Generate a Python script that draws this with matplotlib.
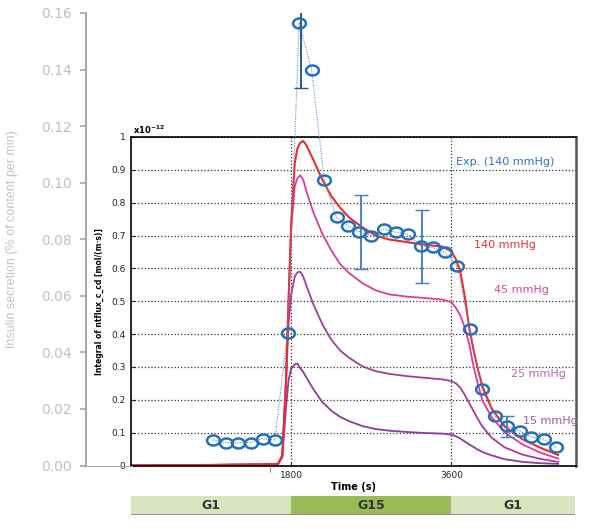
import numpy as np
import matplotlib
matplotlib.use('Agg')
import matplotlib.pyplot as plt
from matplotlib.path import Path
from matplotlib.ticker import FuncFormatter

# model curves, integral of ntflux_c_cd (x1e-12 mol/(m*s)) vs time (s)
t_model = [0, 1000, 1650, 1700, 1740, 1770, 1800, 1840, 1870, 1900, 1935, 1970,
           2050, 2150, 2250, 2350, 2450, 2600, 2750, 2900, 3100, 3300, 3500,
           3600, 3650, 3700, 3750, 3800, 3850, 3900, 3950, 4050, 4200, 4400,
           4600, 4800]
flux_140 = [0, 0.002, 0.004, 0.03, 0.25, 0.50, 0.74, 0.92, 0.965, 0.982, 0.988,
            0.975, 0.93, 0.87, 0.82, 0.785, 0.755, 0.725, 0.70, 0.688, 0.68,
            0.672, 0.666, 0.652, 0.628, 0.59, 0.515, 0.42, 0.35, 0.29, 0.24,
            0.175, 0.118, 0.08, 0.054, 0.032]
flux_45 = [0, 0.002, 0.004, 0.03, 0.25, 0.50, 0.72, 0.85, 0.875, 0.883, 0.87,
           0.835, 0.77, 0.705, 0.655, 0.613, 0.586, 0.555, 0.533, 0.521, 0.514,
           0.51, 0.505, 0.497, 0.48, 0.457, 0.42, 0.37, 0.30, 0.245, 0.197,
           0.148, 0.10, 0.064, 0.039, 0.021]
flux_25 = [0, 0.002, 0.004, 0.03, 0.24, 0.43, 0.52, 0.575, 0.588, 0.59, 0.575,
           0.548, 0.49, 0.43, 0.383, 0.35, 0.328, 0.302, 0.287, 0.279, 0.272,
           0.267, 0.262, 0.257, 0.25, 0.237, 0.215, 0.19, 0.165, 0.14, 0.118,
           0.085, 0.055, 0.033, 0.02, 0.011]
flux_15 = [0, 0.002, 0.003, 0.025, 0.17, 0.26, 0.295, 0.308, 0.31, 0.297, 0.285,
           0.268, 0.232, 0.193, 0.167, 0.148, 0.135, 0.12, 0.111, 0.106, 0.102,
           0.099, 0.097, 0.094, 0.089, 0.082, 0.073, 0.064, 0.056, 0.048, 0.041,
           0.031, 0.019, 0.011, 0.007, 0.005]

# experiment, insulin secretion (% of content per min)
exp_t = [918, 1061, 1199, 1339, 1474, 1612, 1755, 1886, 2025, 2169, 2306, 2437,
         2561, 2698, 2838, 2973, 3112, 3251, 3386, 3521, 3665, 3806, 3941,
         4084, 4219, 4365, 4498, 4635, 4773]
exp_v = [0.0090, 0.0081, 0.0081, 0.0081, 0.0095, 0.0090, 0.0470, 0.1566, 0.1399,
         0.1010, 0.0877, 0.0847, 0.0827, 0.0812, 0.0836, 0.0825, 0.0818, 0.0776,
         0.0771, 0.0754, 0.0704, 0.0483, 0.0269, 0.0175, 0.0140, 0.0122, 0.0101,
         0.0093, 0.0064]
err_t = [2582, 3271, 4224]
err_v = [0.0825, 0.0774, 0.0138]
err_sd = [0.0130, 0.0129, 0.0037]
peak_err_t = [1903]
peak_err_v = [0.1566]
peak_err_sd = [0.0232]

phase_labels = ['G1', 'G15', 'G1']
phase_edges = [0, 1800, 3600, 5000]

W, H = 600, 529
fig = plt.figure(figsize=(W / 100, H / 100), dpi=100)

def rect(x0, y0, x1, y1):  # pixel box -> figure fraction
    return [x0 / W, 1 - y1 / H, (x1 - x0) / W, (y1 - y0) / H]

# ---- model axes (inner)
ax = fig.add_axes(rect(131, 137, 576, 465.5))
ax.set_zorder(1)
ax.plot(t_model, flux_15, color='#8e3aa0', lw=1.3)
ax.plot(t_model, flux_25, color='#a93a9c', lw=1.3)
ax.plot(t_model, flux_45, color='#e0399e', lw=1.3)
ax.plot(t_model, flux_140, color='#ee2b2b', lw=1.5)
ax.set_xlim(0, 5000)
ax.set_ylim(0, 1)
ax.set_yticks(np.arange(0, 1.01, 0.1))
ax.yaxis.set_major_formatter(FuncFormatter(lambda v, p: '%g' % round(v, 1)))
ax.set_xticks([1800, 3600])
ax.tick_params(direction='in', length=3, labelsize=6.5, pad=4, colors='#222222')
ax.grid(True, linestyle=':', color='#333333', lw=0.9)
for s in ax.spines.values():
    s.set_linewidth(1.2)
ax.spines['right'].set_color('#555555')
ax.spines['right'].set_linewidth(1.8)
ax.set_ylabel('Integral of ntflux_c_cd [mol/(m·s)]', fontsize=5.5, fontweight='bold')
ax.yaxis.set_label_coords(-0.061, 0.5)
ax.set_xlabel('Time (s)', fontsize=7, fontweight='bold')
ax.xaxis.set_label_coords(0.5, -0.05)
ax.text(0.005, 1.003, r'x10$^{\mathbf{-12}}$', transform=ax.transAxes,
        fontsize=6, fontweight='bold', va='bottom', ha='left')

ax.text(3651, 0.925, 'Exp. (140 mmHg)', color='#2e75b6', fontsize=8, va='center')
ax.text(3853, 0.671, '140 mmHg', color='#e8322c', fontsize=8, va='center')
ax.text(4078, 0.534, '45 mmHg', color='#d348a8', fontsize=8, va='center')
ax.text(4269, 0.279, '25 mmHg', color='#b366b8', fontsize=8, va='center')
ax.text(4404, 0.136, '15 mmHg', color='#9d55b0', fontsize=8, va='center')

# ---- experiment axes (outer, drawn on top)
ax2 = fig.add_axes(rect(86, 13, 576, 465.5))
ax2.set_zorder(3)
ax2.patch.set_visible(False)
ax2.set_xlim(-512, 5000)
ax2.set_ylim(0, 0.16)

theta = np.linspace(0, 2 * np.pi, 60)
ellipse = Path(np.column_stack([np.cos(theta), 0.78 * np.sin(theta)]))

ax2.plot(exp_t, exp_v, color='#5b8fc7', lw=0.8, dashes=(1, 1.2))
ax2.errorbar(peak_err_t, peak_err_v, yerr=peak_err_sd, fmt='none',
             ecolor='#1f5a99', elinewidth=1.4, capsize=5)
ax2.errorbar(err_t, err_v, yerr=err_sd, fmt='none', ecolor='#3a7dc0',
             elinewidth=1.3, capsize=5)
ax2.plot(exp_t, exp_v, ls='none', marker=ellipse, markersize=9.2,
         markerfacecolor='none', markeredgecolor='#2470b8', markeredgewidth=1.8,
         clip_on=False)

ax2.spines['top'].set_visible(False)
ax2.spines['right'].set_visible(False)
ax2.spines['left'].set_color('#a6a6a6')
ax2.spines['left'].set_linewidth(1.4)
ax2.spines['bottom'].set_color('#a6a6a6')
ax2.spines['bottom'].set_bounds(-512, 0)
ax2.set_yticks(np.arange(0, 0.161, 0.02))
ax2.yaxis.set_major_formatter(FuncFormatter(lambda v, p: '%.2f' % v))
ax2.set_xticks([1558])
ax2.set_xticklabels([''])
ax2.tick_params(axis='y', colors='#a6a6a6', labelcolor='#c0c0c0', labelsize=10,
                length=4, width=1.2, pad=6)
ax2.tick_params(axis='x', colors='#a6a6a6', length=4, width=1)
ax2.set_ylabel('Insulin secretion (% of content per min)', color='#c3c3c3',
               fontsize=9, family='Liberation Sans')
ax2.yaxis.set_label_coords(-0.139, 0.5)

# ---- glucose phase bar
ax3 = fig.add_axes(rect(131, 496, 575, 515))
ax3.set_xlim(0, 4995)
ax3.set_ylim(-0.5, 0.5)
phase_colors = ['#d7e4bd', '#9bbb59', '#d7e4bd']
for lab, c, a, b in zip(phase_labels, phase_colors, phase_edges[:-1], phase_edges[1:]):
    ax3.barh(0, b - a, left=a, height=1, color=c, edgecolor='none')
    ax3.text((a + b) / 2, 0, lab, ha='center', va='center', fontsize=9,
             fontweight='bold', color='#333333')
ax3.axhline(-0.5, color='#8a8a8a', lw=2)
ax3.axis('off')

fig.savefig('out.png', dpi=100)
